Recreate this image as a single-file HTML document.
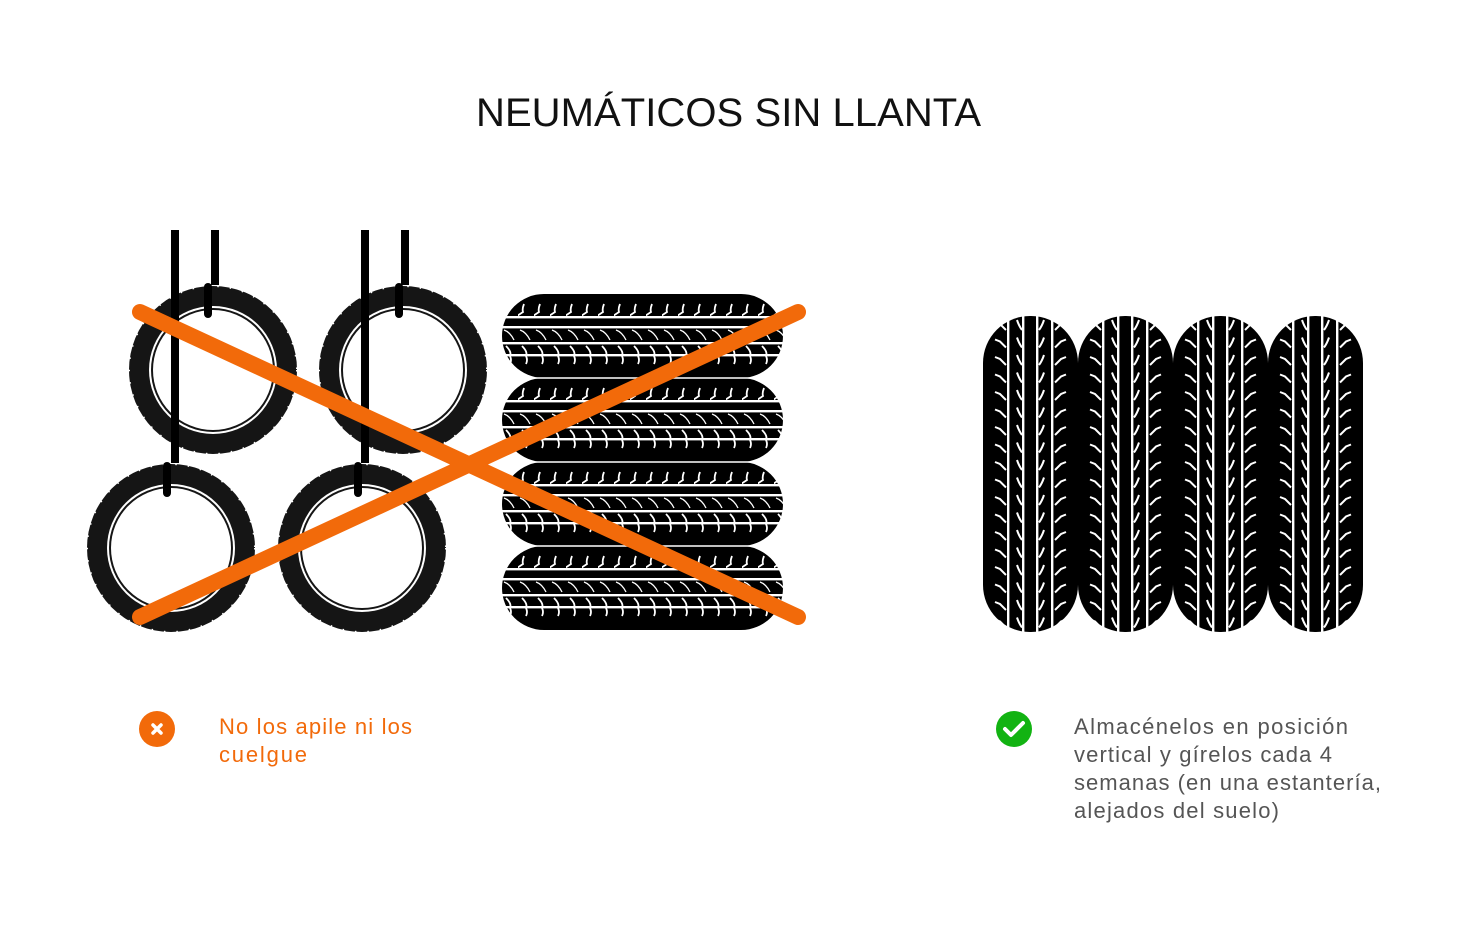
<!DOCTYPE html>
<html><head><meta charset="utf-8"><style>
html,body{margin:0;padding:0;background:#fff;}
svg{display:block;}
text{font-family:"Liberation Sans",sans-serif;}
</style></head><body>
<svg width="1463" height="944" viewBox="0 0 1463 944" xmlns="http://www.w3.org/2000/svg">
<defs>
  <pattern id="htread" x="502" y="294" width="16" height="84" patternUnits="userSpaceOnUse">
    <rect width="16" height="84" fill="#000"/>
    <path d="M6 10 q-2 5 -1 8 l-6 4" stroke="#fff" stroke-width="1.8" fill="none"/>
    <path d="M2 36 q6 2 10 10" stroke="#fff" stroke-width="1.3" fill="none"/>
    <path d="M4 52 q6 6 4 10 q2 4 0 8" stroke="#fff" stroke-width="1.8" fill="none"/>
    <rect x="0" y="22" width="16" height="2.4" fill="#fff"/>
    <rect x="0" y="32" width="16" height="2.4" fill="#fff"/>
    <rect x="0" y="48" width="16" height="2.4" fill="#fff"/>
    <rect x="0" y="60" width="16" height="2.4" fill="#fff"/>
  </pattern>
  <pattern id="vtread" x="983" y="316" width="95" height="17.5" patternUnits="userSpaceOnUse">
    <rect width="95" height="17.5" fill="#000"/>
    <path d="M12 6 l5 2 l6 6 M34 4 q2 6 5 10" stroke="#fff" stroke-width="2" fill="none"/>
    <path d="M83 6 l-5 2 l-6 6 M61 4 q-2 6 -5 10" stroke="#fff" stroke-width="2" fill="none"/>
    <rect x="24" y="0" width="2.4" height="17.5" fill="#fff"/>
    <rect x="39" y="0" width="2.4" height="17.5" fill="#fff"/>
    <rect x="53" y="0" width="2.4" height="17.5" fill="#fff"/>
    <rect x="68" y="0" width="2.4" height="17.5" fill="#fff"/>
  </pattern>
  <g id="ring">
    <circle r="84" fill="#151515"/>
    <circle r="84" fill="none" stroke="#fff" stroke-width="2" stroke-dasharray="1.5 11"/>
    <circle r="64" fill="#fff"/>
    <circle r="62" fill="#151515"/>
    <circle r="60" fill="#fff"/>
  </g>
</defs>

<text x="728.5" y="126" font-size="40" text-anchor="middle" textLength="505" fill="#111">NEUMÁTICOS SIN LLANTA</text>

<use href="#ring" x="213" y="370"/>
<use href="#ring" x="403" y="370"/>
<use href="#ring" x="171" y="548"/>
<use href="#ring" x="362" y="548"/>
<g fill="#000">
  <rect x="171" y="230" width="8" height="233"/>
  <rect x="211" y="230" width="8" height="55"/>
  <rect x="361" y="230" width="8" height="233"/>
  <rect x="401" y="230" width="8" height="55"/>
  <rect x="204" y="283" width="8" height="35" rx="4"/>
  <rect x="395" y="283" width="8" height="35" rx="4"/>
  <rect x="163" y="462" width="8" height="35" rx="4"/>
  <rect x="354" y="462" width="8" height="35" rx="4"/>
</g>

<rect x="502" y="294" width="281" height="84" rx="42" fill="url(#htread)"/>
<rect x="502" y="378" width="281" height="84" rx="42" fill="url(#htread)"/>
<rect x="502" y="462" width="281" height="84" rx="42" fill="url(#htread)"/>
<rect x="502" y="546" width="281" height="84" rx="42" fill="url(#htread)"/>
<g stroke="#fff" stroke-width="1.5" fill="none">
  <line x1="520" y1="378" x2="765" y2="378"/>
  <line x1="520" y1="462" x2="765" y2="462"/>
  <line x1="520" y1="546" x2="765" y2="546"/>
</g>

<g stroke="#f26a0a" stroke-width="16" stroke-linecap="round">
  <line x1="140" y1="312" x2="798" y2="617"/>
  <line x1="140" y1="617" x2="798" y2="312"/>
</g>

<rect x="983" y="316" width="95" height="316" rx="47" fill="url(#vtread)"/>
<rect x="1078" y="316" width="95" height="316" rx="47" fill="url(#vtread)"/>
<rect x="1173" y="316" width="95" height="316" rx="47" fill="url(#vtread)"/>
<rect x="1268" y="316" width="95" height="316" rx="47" fill="url(#vtread)"/>

<circle cx="157" cy="729" r="18" fill="#f26a0a"/>
<path d="M153 725 l8 8 M161 725 l-8 8" stroke="#fff" stroke-width="3.5" stroke-linecap="round"/>
<text x="219" y="734" font-size="22" fill="#f26a0a" textLength="193">No los apile ni los</text>
<text x="219" y="762" font-size="22" fill="#f26a0a" textLength="88">cuelgue</text>

<circle cx="1014" cy="729" r="18" fill="#12b312"/>
<path d="M1005 729 l6 6 l12 -12" stroke="#fff" stroke-width="4" fill="none" stroke-linecap="round" stroke-linejoin="round"/>
<g font-size="22" fill="#555">
<text x="1074" y="734" textLength="274">Almacénelos en posición</text>
<text x="1074" y="762" textLength="258">vertical y gírelos cada 4</text>
<text x="1074" y="790" textLength="307">semanas (en una estantería,</text>
<text x="1074" y="818" textLength="205">alejados del suelo)</text>
</g>
</svg>
</body></html>
